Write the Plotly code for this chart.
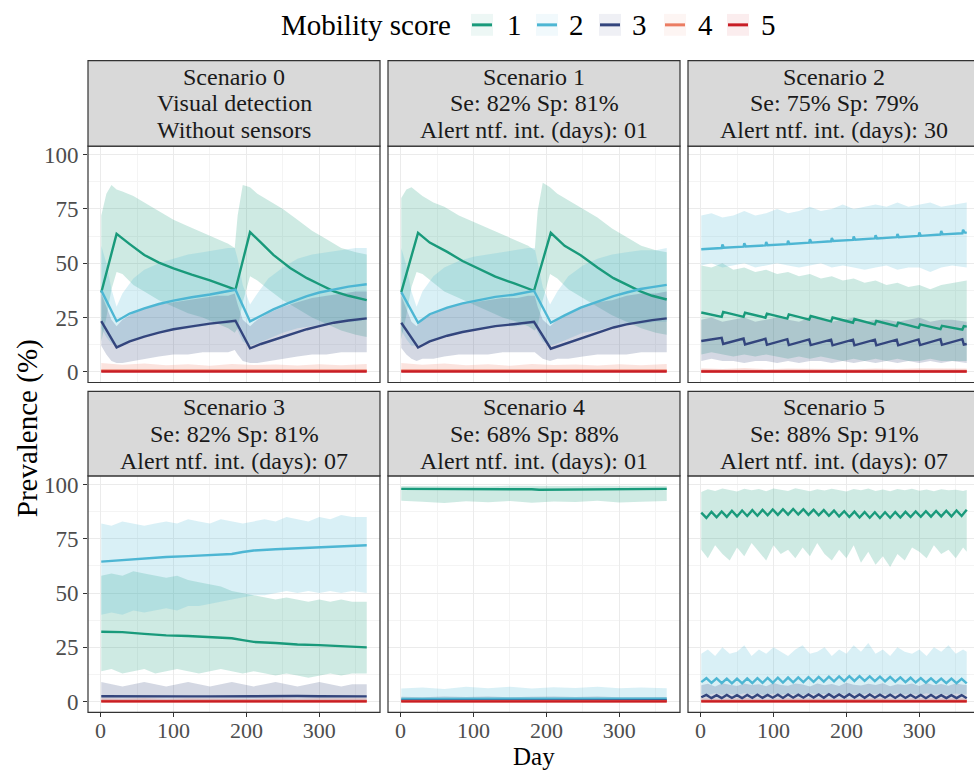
import plotly.graph_objects as go

W, H = 974, 771
FONT = "Liberation Serif"

# ---------------------------------------------------------------- data
SCORES = [1, 2, 3, 4, 5]
SCORE_COLORS = ["#199A7B", "#4DB6D3", "#33457D", "#EB7C62", "#C81D25"]

STRIP_TITLES = [
    ["Scenario 0", "Visual detection", "Without sensors"],
    ["Scenario 1", "Se: 82% Sp: 81%", "Alert ntf. int. (days): 01"],
    ["Scenario 2", "Se: 75% Sp: 79%", "Alert ntf. int. (days): 30"],
    ["Scenario 3", "Se: 82% Sp: 81%", "Alert ntf. int. (days): 07"],
    ["Scenario 4", "Se: 68% Sp: 88%", "Alert ntf. int. (days): 01"],
    ["Scenario 5", "Se: 88% Sp: 91%", "Alert ntf. int. (days): 07"],
]

X_TICKS = [0, 100, 200, 300]
X_MINOR = [50, 150, 250, 350]
Y_TICKS = [0, 25, 50, 75, 100]
Y_MINOR = [12.5, 37.5, 62.5, 87.5]

# Scenario 0: mean prevalence per score
S0_DAY = [1, 22, 40, 60, 80, 100, 125, 150, 185, 205, 220, 237, 260, 283, 300, 320, 340, 365]
S0_M1 = [36.5, 63.5, 58.8, 53.8, 50.3, 47.6, 44.7, 42.1, 37.8, 64.3, 59.5, 53.8, 47.8, 43.1, 40.3, 37.0, 35.0, 33.0]
S0_M2 = [37.5, 23.3, 26.8, 29.2, 31.2, 32.8, 34.3, 35.6, 37.8, 23.2, 25.8, 28.7, 32.0, 34.8, 36.5, 38.0, 39.2, 40.3]
S0_M3 = [23.3, 11.2, 14.0, 16.2, 18.0, 19.6, 20.9, 22.2, 23.5, 10.8, 12.8, 14.6, 17.2, 19.6, 21.0, 22.6, 23.6, 24.6]
# Scenario 0: 95% bands
S0_BAND_DAY = [1, 8, 15, 22, 30, 45, 60, 80, 100, 120, 140, 160, 175, 184, 188, 195, 205, 215, 230, 250, 270, 290, 310, 330, 350, 365]
S0_HI1 = [72, 82, 86, 84, 83, 81, 78, 74, 70, 67, 64, 61, 59, 57, 72, 86, 85, 82, 79, 75, 70, 65, 61, 57, 55, 54]
S0_LO1 = [14, 25, 38, 46, 45, 40, 37, 33, 30, 27, 25, 22, 20, 18, 20, 32, 44, 42, 38, 33, 29, 25, 22, 19, 17, 16]
S0_HI2 = [58, 50, 38, 30, 36, 43, 47, 50, 52, 54, 55, 56, 57, 57, 52, 40, 31, 36, 43, 48, 52, 54, 55, 56, 57, 57]
S0_LO2 = [20, 16, 13, 12, 13, 15, 16, 18, 19, 20, 21, 22, 22, 23, 19, 14, 12, 13, 15, 18, 20, 21, 22, 23, 23, 24]
S0_HI3 = [36, 30, 24, 21, 24, 27, 29, 31, 32, 33, 34, 35, 35, 36, 31, 24, 21, 24, 27, 30, 32, 34, 35, 36, 37, 37]
S0_LO3 = [12, 8, 5, 4, 4, 5, 6, 7, 8, 8, 9, 9, 9, 10, 8, 5, 4, 4, 5, 6, 7, 8, 8, 9, 9, 9]

# Scenario 1
S1_DAY = [1, 24, 40, 64, 85, 110, 130, 155, 183, 206, 225, 247, 270, 292, 310, 329, 345, 365]
S1_M1 = [36.7, 64.0, 59.5, 55.2, 51.0, 46.9, 43.8, 40.8, 37.3, 64.0, 58.0, 53.7, 48.0, 43.1, 40.0, 37.0, 35.0, 33.3]
S1_M2 = [36.7, 22.6, 26.5, 29.5, 31.5, 33.3, 34.5, 35.5, 37.3, 22.6, 26.0, 29.5, 32.3, 34.8, 36.5, 38.1, 39.0, 40.0]
S1_M3 = [22.6, 11.2, 14.0, 16.6, 18.3, 19.9, 21.0, 21.9, 23.0, 10.6, 12.8, 15.1, 17.8, 20.4, 21.8, 23.0, 23.8, 24.6]
S1_BAND_DAY = S0_BAND_DAY
S1_HI1 = [80, 84, 85, 83, 81, 78, 76, 72, 69, 66, 63, 60, 58, 56, 74, 87, 85, 82, 79, 75, 71, 66, 62, 58, 56, 55]
S1_LO1 = [15, 26, 39, 46, 45, 41, 37, 34, 31, 28, 25, 23, 21, 19, 21, 33, 45, 43, 38, 34, 30, 26, 23, 20, 18, 17]
S1_HI2 = [57, 49, 37, 30, 37, 44, 48, 51, 53, 54, 55, 56, 57, 57, 51, 39, 31, 37, 44, 49, 52, 54, 55, 56, 56, 57]
S1_LO2 = [19, 15, 12, 12, 13, 15, 16, 18, 19, 20, 21, 21, 22, 22, 18, 14, 12, 13, 15, 18, 19, 21, 22, 22, 23, 23]
S1_HI3 = [35, 29, 23, 21, 24, 27, 29, 31, 32, 33, 34, 34, 35, 35, 30, 24, 21, 24, 27, 30, 32, 33, 35, 36, 36, 37]
S1_LO3 = [11, 8, 6, 5, 6, 6, 7, 8, 8, 8, 9, 9, 9, 9, 8, 6, 5, 6, 6, 7, 8, 8, 8, 9, 9, 9]

# Scenario 2 (30-day alert cycle)
S2_DAY2 = [1, 29, 30, 32, 59, 60, 62, 89, 90, 92, 119, 120, 122, 149, 150, 152, 179, 180, 182,
           209, 210, 212, 239, 240, 242, 269, 270, 272, 299, 300, 302, 329, 330, 332, 359, 360, 362, 365]
S2_M2 = [56.4, 57.0, 58.6, 57.1, 57.6, 59.2, 57.7, 58.2, 59.8, 58.3, 58.8, 60.4, 58.9, 59.5, 61.0, 59.5,
         60.1, 61.6, 60.2, 60.7, 62.3, 60.8, 61.4, 62.9, 61.4, 62.0, 63.5, 62.0, 62.6, 64.1, 62.6,
         63.2, 64.8, 63.3, 63.8, 65.4, 64.2, 64.0]
S2_DAY13 = [1, 29, 31, 59, 61, 89, 91, 119, 121, 149, 151, 179, 181, 209, 211, 239, 241,
            269, 271, 299, 301, 329, 331, 359, 361, 365]
S2_M1 = [27.3, 25.3, 27.6, 25.3, 27.2, 24.9, 26.8, 24.5, 26.4, 24.0, 25.7, 23.2, 25.0, 22.6, 24.3,
         21.8, 23.4, 21.0, 22.6, 20.2, 21.8, 19.6, 21.2, 19.4, 21.0, 20.8]
S2_M3 = [14.2, 15.6, 12.8, 15.3, 12.6, 15.2, 12.4, 15.0, 12.3, 14.9, 12.3, 14.8, 12.2, 14.8, 12.2,
         14.8, 12.2, 14.8, 12.2, 14.9, 12.3, 15.0, 12.4, 15.0, 12.5, 12.8]
S2_BAND_DAY = [1, 15, 30, 45, 60, 75, 90, 105, 120, 135, 150, 165, 180, 195, 210, 225, 240, 255, 270, 285, 300, 315, 330, 345, 365]
S2_HI1 = [49, 48, 50, 47, 48, 46, 47, 45, 46, 44, 45, 43, 44, 42, 43, 41, 42, 40, 41, 39, 40, 38, 40, 41, 42]
S2_LO1 = [8, 9, 8, 7, 8, 7, 8, 7, 6, 7, 6, 7, 6, 5, 6, 5, 6, 5, 6, 5, 5, 6, 5, 5, 5]
S2_HI2 = [72, 73, 71, 72, 74, 72, 73, 75, 73, 74, 76, 74, 75, 77, 75, 76, 77, 76, 78, 76, 77, 78, 76, 77, 78]
S2_LO2 = [49, 50, 48, 49, 50, 48, 49, 50, 49, 48, 49, 50, 48, 49, 48, 47, 48, 49, 47, 48, 48, 46, 48, 49, 48]
S2_HI3 = [24, 25, 23, 24, 25, 23, 24, 25, 24, 23, 25, 24, 23, 24, 25, 23, 24, 24, 23, 24, 25, 23, 24, 24, 23]
S2_LO3 = [5, 6, 5, 5, 4, 5, 5, 4, 5, 4, 5, 5, 4, 5, 4, 5, 4, 5, 4, 5, 4, 5, 4, 5, 4]

# Scenario 3
S3_DAY = [1, 30, 60, 90, 120, 150, 180, 195, 210, 240, 270, 300, 330, 365]
S3_M1 = [32.2, 32.0, 31.2, 30.5, 30.2, 29.8, 29.2, 28.3, 27.5, 27.0, 26.3, 26.0, 25.6, 25.0]
S3_M2 = [64.5, 65.2, 66.0, 66.6, 67.0, 67.4, 68.0, 68.9, 69.6, 70.2, 70.7, 71.2, 71.6, 72.0]
S3_M3 = [2.5, 2.4, 2.3, 2.3, 2.4, 2.4, 2.5, 2.6, 2.7, 2.6, 2.6, 2.5, 2.5, 2.4]
S3_BAND_DAY = S2_BAND_DAY
S3_HI1 = [58, 59, 58, 60, 59, 58, 57, 58, 56, 55, 54, 53, 51, 50, 49, 48, 47, 48, 47, 46, 47, 46, 47, 46, 46]
S3_LO1 = [14, 15, 13, 14, 15, 13, 14, 15, 14, 13, 14, 15, 14, 13, 14, 13, 12, 13, 12, 11, 12, 13, 12, 13, 13]
S3_HI2 = [82, 81, 83, 82, 81, 82, 83, 82, 84, 83, 82, 84, 83, 82, 83, 84, 83, 85, 84, 83, 85, 84, 86, 85, 85]
S3_LO2 = [40, 41, 40, 42, 41, 42, 43, 42, 44, 44, 45, 46, 47, 48, 49, 49, 50, 51, 50, 51, 50, 51, 50, 51, 50]
S3_HI3 = [9, 8, 7, 8, 9, 8, 7, 8, 9, 8, 7, 8, 9, 8, 7, 8, 9, 8, 7, 8, 9, 8, 7, 8, 8]
S3_LO3 = [0] * len(S3_BAND_DAY)

# Scenario 4
S4_DAY = [1, 100, 180, 190, 250, 365]
S4_M1 = [98.0, 98.0, 97.8, 97.6, 97.8, 98.0]
S4_M2 = [1.2, 1.3, 1.4, 1.5, 1.4, 1.3]
S4_M3 = [0.4, 0.5, 0.5, 0.6, 0.5, 0.5]
S4_BAND_DAY = [1, 30, 60, 90, 120, 150, 180, 210, 240, 270, 300, 330, 365]
S4_HI1 = [99.3, 99.2, 99.4, 99.3, 99.2, 99.4, 99.3, 99.2, 99.3, 99.4, 99.2, 99.3, 99.3]
S4_LO1 = [92.5, 92.0, 91.5, 92.3, 91.8, 92.4, 91.6, 92.2, 91.9, 92.5, 91.7, 92.1, 92.4]
S4_HI2 = [6.0, 6.5, 5.8, 6.8, 6.2, 6.9, 6.0, 6.6, 6.3, 6.8, 6.1, 6.5, 6.2]
S4_LO2 = [0] * len(S4_BAND_DAY)
S4_HI3 = [2.2, 2.0, 2.4, 2.1, 2.3, 2.0, 2.2, 2.4, 2.1, 2.3, 2.0, 2.2, 2.1]
S4_LO3 = [0] * len(S4_BAND_DAY)

# Scenario 5 (weekly alerts)
S5_DAY = [1, 8, 15, 22, 29, 36, 43, 50, 57, 64, 71, 78, 85, 92, 99, 106, 113, 120, 127, 134, 141,
          148, 155, 162, 169, 176, 183, 190, 197, 204, 211, 218, 225, 232, 239, 246, 253, 260,
          267, 274, 281, 288, 295, 302, 309, 316, 323, 330, 337, 344, 351, 358, 365]
S5_M1 = [87.0, 84.6, 87.4, 84.9, 87.6, 85.1, 87.9, 85.3, 88.0, 85.5, 88.2, 85.6, 88.3, 85.8, 88.5,
         86.0, 88.6, 86.1, 88.7, 86.2, 88.6, 86.0, 88.4, 85.8, 88.2, 85.6, 88.0, 85.3, 87.7, 85.0,
         87.5, 84.8, 87.3, 84.7, 87.2, 84.6, 87.2, 84.7, 87.3, 84.8, 87.4, 85.0, 87.6, 85.1, 87.7,
         85.2, 87.8, 85.3, 87.9, 85.3, 88.0, 85.5, 88.4]
S5_M2 = [9.0, 10.8, 8.6, 10.7, 8.5, 10.6, 8.4, 10.6, 8.4, 10.7, 8.5, 10.8, 8.6, 10.9, 8.7, 11.0,
         8.8, 11.1, 8.9, 11.2, 9.0, 11.3, 9.1, 11.4, 9.2, 11.5, 9.3, 11.6, 9.4, 11.7, 9.5, 11.7,
         9.5, 11.6, 9.4, 11.5, 9.3, 11.4, 9.2, 11.2, 9.0, 11.0, 8.8, 10.8, 8.7, 10.7, 8.6, 10.6,
         8.5, 10.6, 8.5, 10.5, 8.4]
S5_M3 = [2.0, 3.1, 1.6, 3.0, 1.6, 3.1, 1.7, 3.0, 1.6, 3.1, 1.7, 3.2, 1.7, 3.1, 1.8, 3.2, 1.7, 3.3,
         1.8, 3.2, 1.8, 3.3, 1.9, 3.3, 1.8, 3.4, 1.9, 3.3, 1.9, 3.4, 1.9, 3.3, 1.8, 3.3, 1.8, 3.2,
         1.8, 3.2, 1.7, 3.2, 1.7, 3.1, 1.7, 3.1, 1.6, 3.1, 1.6, 3.0, 1.6, 3.0, 1.6, 3.0, 1.5]
S5_BAND_DAY = [1, 10, 20, 30, 40, 50, 60, 70, 80, 90, 100, 110, 120, 130, 140, 150, 160, 170, 180,
               190, 200, 210, 220, 230, 240, 250, 260, 270, 280, 290, 300, 310, 320, 330, 340, 350, 360, 365]
S5_HI1 = [96.5, 97.8, 97.0, 98.2, 97.5, 96.8, 98.0, 97.3, 97.9, 96.9, 98.1, 97.4, 97.0, 98.3, 97.6,
          96.9, 97.8, 97.2, 98.0, 97.5, 96.8, 97.9, 97.3, 98.1, 97.0, 97.7, 96.9, 97.9, 97.4, 98.0,
          97.1, 97.7, 96.9, 97.8, 97.3, 97.6, 97.0, 97.5]
S5_LO1 = [70, 66, 72, 68, 65, 71, 67, 73, 69, 65, 72, 68, 70, 66, 71, 67, 73, 68, 65, 70, 66, 72,
          64, 69, 63, 67, 62, 68, 65, 71, 69, 66, 72, 68, 70, 66, 71, 69]
S5_HI2 = [22, 24, 21, 25, 22, 23, 26, 21, 24, 22, 25, 23, 21, 24, 26, 22, 23, 25, 21, 24, 22, 26,
          23, 27, 22, 24, 21, 25, 23, 22, 24, 21, 25, 23, 26, 22, 24, 23]
S5_LO2 = [3.5, 3.0, 3.8, 3.2, 3.6, 3.1, 3.9, 3.3, 3.5, 3.0, 3.7, 3.2, 3.6, 3.4, 3.0, 3.8, 3.3, 3.5,
          3.1, 3.7, 3.2, 3.6, 3.0, 3.8, 3.4, 3.5, 3.1, 3.7, 3.3, 3.6, 3.0, 3.8, 3.2, 3.5, 3.1, 3.7,
          3.3, 3.4]
S5_HI3 = [7.5, 8.2, 7.0, 8.5, 7.8, 7.2, 8.4, 7.6, 8.0, 7.1, 8.6, 7.7, 7.3, 8.3, 7.9, 7.0, 8.4, 7.5,
          8.1, 7.2, 8.7, 7.8, 7.4, 8.2, 7.6, 8.5, 7.1, 8.0, 7.7, 8.3, 7.2, 8.6, 7.5, 8.1, 7.3, 8.4,
          7.8, 7.6]
S5_LO3 = [0] * len(S5_BAND_DAY)

# Scores 4 and 5 stay close to zero in every scenario
LOW_DAY = [1, 365]
M4_EARLY = [0.5, 0.5]   # scenarios 0 and 1
M4_LATE = [0.2, 0.2]    # scenarios 2-5
M5 = [0.1, 0.1]
LOW_BAND_DAY = [1, 30, 60, 90, 120, 150, 180, 210, 240, 270, 300, 330, 365]
HI4_EARLY = [4.0, 3.2, 3.8, 3.0, 3.5, 2.8, 3.6, 3.1, 3.4, 2.9, 3.5, 3.0, 3.6]
HI4_LATE = [1.6, 1.3, 1.7, 1.2, 1.5, 1.4, 1.6, 1.2, 1.5, 1.3, 1.6, 1.4, 1.5]
HI5 = [1.0, 0.9, 1.1, 0.9, 1.0, 1.1, 0.9, 1.0, 1.1, 0.9, 1.0, 0.9, 1.0]
LO_LOW = [0] * len(LOW_BAND_DAY)

SCENARIOS = [
    {"lines": [(S0_DAY, S0_M1), (S0_DAY, S0_M2), (S0_DAY, S0_M3), (LOW_DAY, M4_EARLY), (LOW_DAY, M5)],
     "bands": [(S0_BAND_DAY, S0_LO1, S0_HI1), (S0_BAND_DAY, S0_LO2, S0_HI2), (S0_BAND_DAY, S0_LO3, S0_HI3),
               (LOW_BAND_DAY, LO_LOW, HI4_EARLY), (LOW_BAND_DAY, LO_LOW, HI5)]},
    {"lines": [(S1_DAY, S1_M1), (S1_DAY, S1_M2), (S1_DAY, S1_M3), (LOW_DAY, M4_EARLY), (LOW_DAY, M5)],
     "bands": [(S1_BAND_DAY, S1_LO1, S1_HI1), (S1_BAND_DAY, S1_LO2, S1_HI2), (S1_BAND_DAY, S1_LO3, S1_HI3),
               (LOW_BAND_DAY, LO_LOW, HI4_EARLY), (LOW_BAND_DAY, LO_LOW, HI5)]},
    {"lines": [(S2_DAY13, S2_M1), (S2_DAY2, S2_M2), (S2_DAY13, S2_M3), (LOW_DAY, M4_LATE), (LOW_DAY, M5)],
     "bands": [(S2_BAND_DAY, S2_LO1, S2_HI1), (S2_BAND_DAY, S2_LO2, S2_HI2), (S2_BAND_DAY, S2_LO3, S2_HI3),
               (LOW_BAND_DAY, LO_LOW, HI4_LATE), (LOW_BAND_DAY, LO_LOW, HI5)]},
    {"lines": [(S3_DAY, S3_M1), (S3_DAY, S3_M2), (S3_DAY, S3_M3), (LOW_DAY, M4_LATE), (LOW_DAY, M5)],
     "bands": [(S3_BAND_DAY, S3_LO1, S3_HI1), (S3_BAND_DAY, S3_LO2, S3_HI2), (S3_BAND_DAY, S3_LO3, S3_HI3),
               (LOW_BAND_DAY, LO_LOW, HI4_LATE), (LOW_BAND_DAY, LO_LOW, HI5)]},
    {"lines": [(S4_DAY, S4_M1), (S4_DAY, S4_M2), (S4_DAY, S4_M3), (LOW_DAY, M4_LATE), (LOW_DAY, M5)],
     "bands": [(S4_BAND_DAY, S4_LO1, S4_HI1), (S4_BAND_DAY, S4_LO2, S4_HI2), (S4_BAND_DAY, S4_LO3, S4_HI3),
               (LOW_BAND_DAY, LO_LOW, HI4_LATE), (LOW_BAND_DAY, LO_LOW, HI5)]},
    {"lines": [(S5_DAY, S5_M1), (S5_DAY, S5_M2), (S5_DAY, S5_M3), (LOW_DAY, M4_LATE), (LOW_DAY, M5)],
     "bands": [(S5_BAND_DAY, S5_LO1, S5_HI1), (S5_BAND_DAY, S5_LO2, S5_HI2), (S5_BAND_DAY, S5_LO3, S5_HI3),
               (LOW_BAND_DAY, LO_LOW, HI4_LATE), (LOW_BAND_DAY, LO_LOW, HI5)]},
]

# ---------------------------------------------------------------- styling
FILL_ALPHA = 0.21
LINE_W = 2.4
BORDER = "#333333"
STRIP_FILL = "#D9D9D9"
GRID_MAJOR = "#EBEBEB"
GRID_MINOR = "#F4F4F4"
TICK_COLOR = "#4D4D4D"
TEXT_COLOR = "#1A1A1A"
TICK_SIZE = 22
STRIP_SIZE = 24
STRIP_LINE_GAP = 27

# facet layout in pixels
COL_X = [(88, 380), (388, 680), (688, 980)]
ROW_PLOT_Y = [(144, 382), (476, 714)]
ROW_STRIP_Y = [(58, 144), (391, 476)]
X_RANGE = (-17.2, 383.2)
Y_RANGE = (-4.95, 103.95)


def rgba(hex_color, alpha):
    h = hex_color.lstrip("#")
    r, g, b = int(h[0:2], 16), int(h[2:4], 16), int(h[4:6], 16)
    return f"rgba({r},{g},{b},{alpha})"


def fx(px):
    return px / W


def fy(px):
    return 1 - px / H


fig = go.Figure()
layout = {}
shapes = []
annotations = []

for i, sc in enumerate(SCENARIOS):
    r, c = divmod(i, 3)
    suffix = "" if i == 0 else str(i + 1)
    xa, ya = "x" + suffix, "y" + suffix
    x0, x1 = COL_X[c]
    y0, y1 = ROW_PLOT_Y[r]
    sy0, sy1 = ROW_STRIP_Y[r]
    vis_x1 = min(x1, W)
    x_end = X_RANGE[0] + (X_RANGE[1] - X_RANGE[0]) * (vis_x1 - x0) / (x1 - x0)

    # ribbons first, then mean lines on top
    for k, (days, lo, hi) in enumerate(sc["bands"]):
        fig.add_trace(go.Scatter(
            x=list(days) + list(days)[::-1], y=list(hi) + list(lo)[::-1],
            xaxis=xa, yaxis=ya, mode="lines", fill="toself",
            fillcolor=rgba(SCORE_COLORS[k], FILL_ALPHA), line=dict(width=0),
            hoverinfo="skip", showlegend=False))
    for k, (days, vals) in enumerate(sc["lines"]):
        fig.add_trace(go.Scatter(
            x=days, y=vals, xaxis=xa, yaxis=ya, mode="lines",
            line=dict(color=SCORE_COLORS[k], width=LINE_W),
            name=str(SCORES[k]), showlegend=False))

    bottom = r == 1
    left = c == 0
    layout["xaxis" + suffix] = dict(
        domain=[fx(x0), fx(vis_x1)], range=[X_RANGE[0], x_end], anchor=ya,
        tickmode="array", tickvals=X_TICKS, ticktext=[str(v) for v in X_TICKS],
        showticklabels=bottom, ticks="outside" if bottom else "", ticklen=4,
        tickwidth=1, tickcolor=BORDER, ticklabelstandoff=-6,
        tickfont=dict(family=FONT, size=TICK_SIZE, color=TICK_COLOR),
        showgrid=True, gridcolor=GRID_MAJOR, gridwidth=1,
        minor=dict(tickmode="array", tickvals=X_MINOR, showgrid=True,
                   gridcolor=GRID_MINOR, gridwidth=0.8, ticks=""),
        zeroline=False, showline=False, fixedrange=True)
    layout["yaxis" + suffix] = dict(
        domain=[fy(y1), fy(y0)], range=list(Y_RANGE), anchor=xa,
        tickmode="array", tickvals=Y_TICKS, ticktext=[str(v) for v in Y_TICKS],
        showticklabels=left, ticks="outside" if left else "", ticklen=4,
        tickwidth=1, tickcolor=BORDER,
        tickfont=dict(family=FONT, size=TICK_SIZE + 1, color=TICK_COLOR),
        showgrid=True, gridcolor=GRID_MAJOR, gridwidth=1,
        minor=dict(tickmode="array", tickvals=Y_MINOR, showgrid=True,
                   gridcolor=GRID_MINOR, gridwidth=0.8, ticks=""),
        zeroline=False, showline=False, fixedrange=True)

    # panel border
    shapes.append(dict(type="rect", xref="paper", yref="paper",
                       x0=fx(x0), x1=fx(x1), y0=fy(y1), y1=fy(y0),
                       line=dict(color=BORDER, width=1.2), fillcolor="rgba(0,0,0,0)",
                       layer="above"))
    # strip
    shapes.append(dict(type="rect", xref="paper", yref="paper",
                       x0=fx(x0), x1=fx(x1), y0=fy(sy1), y1=fy(sy0),
                       line=dict(color=BORDER, width=1.2), fillcolor=STRIP_FILL,
                       layer="above"))
    cx = (x0 + x1) / 2
    mid = (sy0 + sy1) / 2
    for j, txt in enumerate(STRIP_TITLES[i]):
        annotations.append(dict(
            text=txt, xref="paper", yref="paper", x=fx(cx),
            y=fy(mid + (j - 1) * STRIP_LINE_GAP),
            xanchor="center", yanchor="middle", showarrow=False,
            font=dict(family=FONT, size=STRIP_SIZE, color=TEXT_COLOR)))

# axis titles
annotations.append(dict(text="Day", xref="paper", yref="paper", x=fx(534), y=fy(758.5),
                        xanchor="center", yanchor="middle", showarrow=False,
                        font=dict(family=FONT, size=25, color="#000000")))
annotations.append(dict(text="Prevalence (%)", xref="paper", yref="paper", x=fx(27), y=fy(428),
                        xanchor="center", yanchor="middle", showarrow=False, textangle=-90,
                        font=dict(family=FONT, size=29, color="#000000")))

# legend drawn along the top
LEGEND_Y = 22
annotations.append(dict(text="Mobility score", xref="paper", yref="paper", x=fx(366), y=fy(LEGEND_Y),
                        xanchor="center", yanchor="middle", showarrow=False,
                        font=dict(family=FONT, size=29, color="#000000")))
KEY_X = [472, 537, 600, 665, 728]
LABEL_X = [514, 576, 639, 705, 768]
for k, score in enumerate(SCORES):
    kx = KEY_X[k]
    shapes.append(dict(type="rect", xref="paper", yref="paper",
                       x0=fx(kx - 1), x1=fx(kx + 21), y0=fy(LEGEND_Y + 11), y1=fy(LEGEND_Y - 11),
                       line=dict(width=0), fillcolor=rgba(SCORE_COLORS[k], 0.08)))
    shapes.append(dict(type="line", xref="paper", yref="paper",
                       x0=fx(kx), x1=fx(kx + 20), y0=fy(LEGEND_Y), y1=fy(LEGEND_Y),
                       line=dict(color=SCORE_COLORS[k], width=3)))
    annotations.append(dict(text=str(score), xref="paper", yref="paper", x=fx(LABEL_X[k]),
                            y=fy(LEGEND_Y), xanchor="center", yanchor="middle", showarrow=False,
                            font=dict(family=FONT, size=29, color="#000000")))

fig.update_layout(
    width=W, height=H, autosize=False,
    margin=dict(l=0, r=0, t=0, b=0),
    paper_bgcolor="white", plot_bgcolor="white",
    showlegend=False, shapes=shapes, annotations=annotations,
    font=dict(family=FONT),
    **layout)

fig.write_html("out.html")
